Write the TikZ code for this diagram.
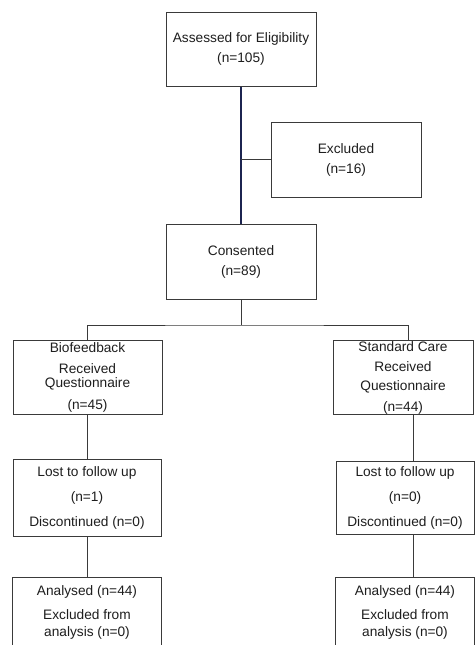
\documentclass[tikz,border=0pt]{standalone}
\usepackage{fontspec}
\setmainfont{Liberation Sans}
\definecolor{boxline}{HTML}{3A3A3A}
\definecolor{txt}{HTML}{1E1E1E}
\definecolor{navy}{HTML}{1C2450}
\begin{document}
\begin{tikzpicture}[x=1pt,y=-1pt,
  box/.style={draw=boxline,line width=1pt,rectangle,align=center,inner sep=0pt,
    text=txt,font=\fontsize{13.7}{20}\selectfont},
  openbox/.style={box,draw=none},
  conn/.style={draw=boxline,line width=1pt},
  mainconn/.style={draw=navy,line width=1.2pt}]
\useasboundingbox (0,0) rectangle (475,645);
\fill[white] (0,0) rectangle (475,645);
\node[box,minimum width=150,minimum height=74] (elig) at (241,49) {Assessed for Eligibility\\(n=105)};
\node[box,minimum width=150,minimum height=75] (excl) at (346,159.5) {Excluded\\(n=16)};
\node[box,minimum width=150,minimum height=75] (cons) at (241,261.5) {Consented\\(n=89)};
\node[box,minimum width=149,minimum height=74] (bio) at (87.5,377) {Biofeedback\\[1pt]Received\\[-6pt]Questionnaire\\[2pt](n=45)};
\node[box,minimum width=140,minimum height=74] (std) at (403,377.5) {Standard Care\\Received\\[-1pt]Questionnaire\\[1pt](n=44)};
\node[box,minimum width=148,minimum height=77] (lostL) at (87,497.5) {Lost to follow up\\[5pt](n=1)\\[5pt]Discontinued (n=0)};
\node[box,minimum width=138,minimum height=73] (lostR) at (405,497.5) {Lost to follow up\\[5pt](n=0)\\[5pt]Discontinued (n=0)};
\node[openbox,minimum width=148,minimum height=68] (anL) at (87,612) {Analysed (n=44)\\[4pt]Excluded from\\[-3pt]analysis (n=0)};
\node[openbox,minimum width=138,minimum height=68] (anR) at (405,612) {Analysed (n=44)\\[4pt]Excluded from\\[-3pt]analysis (n=0)};
\draw[conn] (anL.south west) |- (anL.north east) -- (anL.south east);
\draw[conn] (anR.south west) |- (anR.north east) -- (anR.south east);
% connectors
\draw[mainconn] (elig.south) -- (cons.north);
\coordinate (exj) at (elig.south |- excl.west);
\draw[conn] (exj) -- (excl.west);
\draw[conn] (cons.south) -- ++(0,25.5) coordinate (split);
\draw[conn] (bio.north) |- (split) -| ([xshift=5pt]std.north);
\draw[conn] (bio.south) -- (bio.south |- lostL.north);
\draw[conn] ([xshift=10pt]std.south) -- ([xshift=10pt]std.south |- lostR.north);
\draw[conn] (lostL.south) -- (anL.north);
\draw[conn] ([xshift=8pt]lostR.south) -- ([xshift=8pt]anR.north);
\end{tikzpicture}
\end{document}
